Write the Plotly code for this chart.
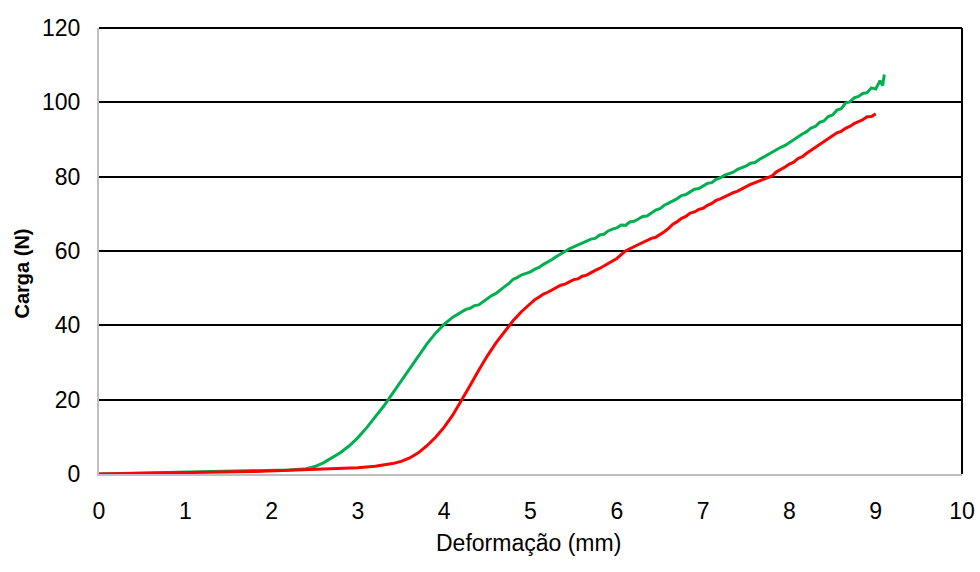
import plotly.graph_objects as go

# Load–deformation curves (deformation in mm, load in N)
green_x = [0, 0.2, 0.4, 0.6, 0.8, 1.0, 1.2, 1.4, 1.6, 1.8, 2.0, 2.2, 2.4,
           2.5, 2.6, 2.7, 2.8, 2.9, 3.0, 3.1, 3.2, 3.3, 3.4, 3.5, 3.6, 3.7,
           3.8, 3.9, 4.0, 4.1,
           4.20, 4.25, 4.30, 4.35, 4.40, 4.45, 4.50, 4.55, 4.60, 4.65, 4.70,
           4.75, 4.80, 4.85, 4.90, 4.95, 5.00, 5.05, 5.10, 5.15, 5.20, 5.25,
           5.30, 5.35, 5.40, 5.45, 5.50, 5.55, 5.60, 5.65, 5.70, 5.75, 5.80,
           5.85, 5.90, 5.95, 6.00, 6.05, 6.10, 6.15, 6.20, 6.25, 6.30, 6.35,
           6.40, 6.45, 6.50, 6.55, 6.60, 6.65, 6.70, 6.75, 6.80, 6.85, 6.90,
           6.95, 7.00, 7.05, 7.10, 7.15, 7.20, 7.25, 7.30, 7.35, 7.40, 7.45,
           7.50, 7.55, 7.60, 7.65, 7.70, 7.75, 7.80, 7.85, 7.90, 7.95, 8.00,
           8.05, 8.10, 8.15, 8.20, 8.25, 8.30, 8.35, 8.40, 8.45, 8.50, 8.55,
           8.60, 8.65, 8.70, 8.75, 8.80, 8.85, 8.90, 8.95, 9.00, 9.05, 9.08,
           9.10]
green_y = [0, 0.1, 0.15, 0.2, 0.3, 0.35, 0.45, 0.55, 0.65, 0.8, 0.9, 1.1, 1.4,
           2.0, 3.0, 4.3, 5.8, 7.6, 9.8, 12.4, 15.2, 18.3, 21.6, 25.0, 28.5, 31.9,
           35.0, 37.9, 40.3, 42.2,
           43.6, 44.3, 44.6, 45.3, 45.5, 46.4, 47.2, 48.0, 48.6, 49.4, 50.4,
           51.3, 52.4, 52.9, 53.6, 54.0, 54.4, 55.1, 55.6, 56.4, 57.0, 57.7,
           58.5, 59.2, 60.0, 60.6, 61.1, 61.6, 62.2, 62.6, 63.2, 63.4, 64.3,
           64.5, 65.4, 65.9, 66.2, 67.0, 66.9, 67.8, 68.0, 68.6, 69.3, 69.4,
           70.1, 71.0, 71.4, 72.3, 72.9, 73.4, 74.1, 74.9, 75.2, 75.9, 76.6,
           76.8, 77.6, 78.2, 78.4, 79.3, 79.7, 80.4, 80.8, 81.2, 82.0, 82.4,
           82.9, 83.6, 83.8, 84.6, 85.3, 85.8, 86.5, 87.2, 87.9, 88.4, 89.2,
           90.0, 90.6, 91.5, 92.1, 93.1, 93.5, 94.6, 95.0, 96.2, 96.6, 97.9,
           98.3, 99.8, 100.1, 101.2, 101.6, 102.4, 102.6, 103.9, 103.6, 105.8, 104.5,
           107.5]

red_x = [0, 0.2, 0.4, 0.6, 0.8, 1.0, 1.2, 1.4, 1.6, 1.8, 2.0, 2.2, 2.4, 2.6,
         2.8, 3.0, 3.2, 3.3, 3.4, 3.5, 3.6, 3.7, 3.8, 3.9, 4.0, 4.1, 4.2, 4.3,
         4.4, 4.5, 4.6, 4.7, 4.8, 4.9, 5.0,
         5.05, 5.10, 5.15, 5.20, 5.25, 5.30, 5.35, 5.40, 5.45, 5.50, 5.55,
         5.60, 5.65, 5.70, 5.75, 5.80, 5.85, 5.90, 5.95, 6.00, 6.05, 6.10,
         6.15, 6.20, 6.25, 6.30, 6.35, 6.40, 6.45, 6.50, 6.55, 6.60, 6.65,
         6.70, 6.75, 6.80, 6.85, 6.90, 6.95, 7.00, 7.05, 7.10, 7.15, 7.20,
         7.25, 7.30, 7.35, 7.40, 7.45, 7.50, 7.55, 7.60, 7.65, 7.70, 7.75,
         7.80, 7.85, 7.90, 7.95, 8.00, 8.05, 8.10, 8.15, 8.20, 8.25, 8.30,
         8.35, 8.40, 8.45, 8.50, 8.55, 8.60, 8.65, 8.70, 8.75, 8.80, 8.85,
         8.90, 8.95, 9.00]
red_y = [0, 0.05, 0.1, 0.15, 0.2, 0.3, 0.35, 0.45, 0.6, 0.7, 0.85, 1.0, 1.15, 1.3,
         1.5, 1.7, 2.1, 2.4, 2.8, 3.4, 4.3, 5.7, 7.6, 9.9, 12.6, 15.9, 19.7, 23.8,
         27.9, 31.8, 35.3, 38.4, 41.3, 43.8, 46.0,
         46.9, 47.6, 48.4, 48.9, 49.6, 50.1, 50.8, 51.1, 51.7, 52.3, 52.5,
         53.2, 53.5, 54.2, 54.8, 55.3, 56.0, 56.5, 57.4, 58.0, 59.0, 60.0,
         60.6, 61.2, 61.8, 62.4, 62.9, 63.4, 63.7, 64.4, 65.2, 66.1, 67.2,
         67.9, 68.8, 69.3, 70.2, 70.5, 71.2, 71.5, 72.3, 72.8, 73.6, 74.0,
         74.6, 75.0, 75.7, 76.1, 76.8, 77.3, 77.9, 78.4, 78.9, 79.3, 79.7,
         80.2, 81.3, 81.9, 82.6, 83.4, 83.9, 84.9, 85.4, 86.3, 87.1, 88.0,
         88.8, 89.6, 90.4, 91.0, 91.8, 92.2, 93.0, 93.5, 94.3, 94.8, 95.3,
         96.1, 96.2, 96.9]

x_ticks = [0, 1, 2, 3, 4, 5, 6, 7, 8, 9, 10]
y_ticks = [0, 20, 40, 60, 80, 100, 120]
x_title = "Deformação (mm)"
y_title = "Carga (N)"

fig = go.Figure()
fig.add_trace(go.Scatter(x=green_x, y=green_y, mode="lines",
                         line=dict(color="#00B050", width=3), showlegend=False))
fig.add_trace(go.Scatter(x=red_x, y=red_y, mode="lines",
                         line=dict(color="#FF0000", width=3), showlegend=False))

# frame: top edge and right-hand edge in black
fig.add_shape(type="line", xref="paper", yref="paper", x0=0, x1=1, y0=1, y1=1,
              line=dict(color="black", width=2), layer="above")
fig.add_shape(type="line", xref="paper", yref="paper", x0=1, x1=1, y0=0, y1=1,
              line=dict(color="black", width=2), layer="above")

font_family = "Liberation Sans, Arial, sans-serif"
fig.update_layout(
    width=980, height=572,
    margin=dict(l=99, r=18, t=28, b=98, autoexpand=False),
    paper_bgcolor="white", plot_bgcolor="white",
    font=dict(family=font_family, color="black"),
    xaxis=dict(range=[0, 10], tickvals=x_ticks, showgrid=False, zeroline=False,
               showline=True, linecolor="#BFBFBF", linewidth=2, automargin=False,
               ticks="", tickfont=dict(size=23), ticklabelstandoff=15,
               ticklabeloverflow="allow"),
    yaxis=dict(range=[0, 120], tickvals=y_ticks, showgrid=True, gridcolor="black",
               gridwidth=2, zeroline=False, showline=True, linecolor="#BFBFBF",
               linewidth=2, automargin=False, ticks="", tickfont=dict(size=23),
               ticklabelstandoff=12, ticklabeloverflow="allow"),
    annotations=[
        dict(text=x_title, xref="paper", yref="paper", x=0.498, y=-0.155,
             xanchor="center", yanchor="middle", showarrow=False,
             font=dict(size=23)),
        dict(text="<b>" + y_title + "</b>", xref="paper", yref="paper",
             x=-0.089, y=0.45, xanchor="center", yanchor="middle",
             showarrow=False, textangle=-90, font=dict(size=20)),
    ],
)

fig.write_html("out.html")
